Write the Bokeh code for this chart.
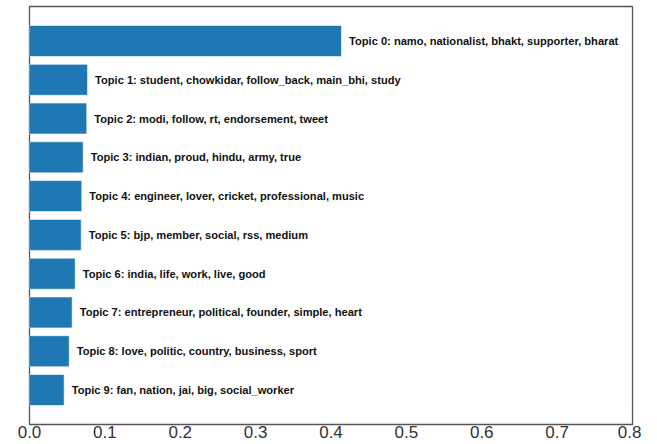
from bokeh.plotting import figure
from bokeh.models import ColumnDataSource, Range1d, FixedTicker, PrintfTickFormatter
from bokeh.embed import file_html
from bokeh.resources import INLINE
from bokeh.core.properties import value

topics = [
    "Topic 0: namo, nationalist, bhakt, supporter, bharat",
    "Topic 1: student, chowkidar, follow_back, main_bhi, study",
    "Topic 2: modi, follow, rt, endorsement, tweet",
    "Topic 3: indian, proud, hindu, army, true",
    "Topic 4: engineer, lover, cricket, professional, music",
    "Topic 5: bjp, member, social, rss, medium",
    "Topic 6: india, life, work, live, good",
    "Topic 7: entrepreneur, political, founder, simple, heart",
    "Topic 8: love, politic, country, business, sport",
    "Topic 9: fan, nation, jai, big, social_worker",
]
weights = [0.414, 0.077, 0.076, 0.0712, 0.0694, 0.0686, 0.0606, 0.0566, 0.0527, 0.046]
x_ticks = [0.0, 0.1, 0.2, 0.3, 0.4, 0.5, 0.6, 0.7, 0.8]

idx = list(range(len(topics)))
src = ColumnDataSource(dict(
    y=idx,
    w=weights,
    tx=[v + 0.01 for v in weights],
    label=topics,
))

p = figure(width=641, height=440, output_backend="svg", toolbar_location=None,
           title=None,
           x_range=Range1d(0, 0.8), y_range=Range1d(9.89, -0.89),
           min_border_left=29, min_border_right=9, min_border_top=6, min_border_bottom=0)

p.hbar(y="y", right="w", left=0, height=0.8, source=src,
       fill_color="#1f77b4", line_color="#ffffff", line_width=1, line_alpha=0.6)
p.text(x="tx", y="y", text="label", source=src,
       text_font=value("Liberation Sans"), text_font_style="bold",
       text_font_size="11.1px", text_baseline="middle", text_align="left",
       text_color="#111111")

p.grid.visible = False
p.yaxis.visible = False
p.xaxis.ticker = FixedTicker(ticks=x_ticks)
p.xaxis.formatter = PrintfTickFormatter(format="%.1f")
p.xaxis.major_tick_line_color = None
p.xaxis.minor_tick_line_color = None
p.xaxis.major_tick_out = 0
p.xaxis.major_tick_in = 0
p.xaxis.axis_line_color = None
p.xaxis.major_label_text_font = "Liberation Sans"
p.xaxis.major_label_text_font_size = "17px"
p.xaxis.major_label_text_color = "#333333"
p.xaxis.major_label_standoff = 1
p.outline_line_color = "#555555"
p.outline_line_width = 1.3
p.outline_line_alpha = 1
p.background_fill_color = "white"
p.border_fill_color = "white"

open("out.html", "w").write(file_html(p, INLINE))
